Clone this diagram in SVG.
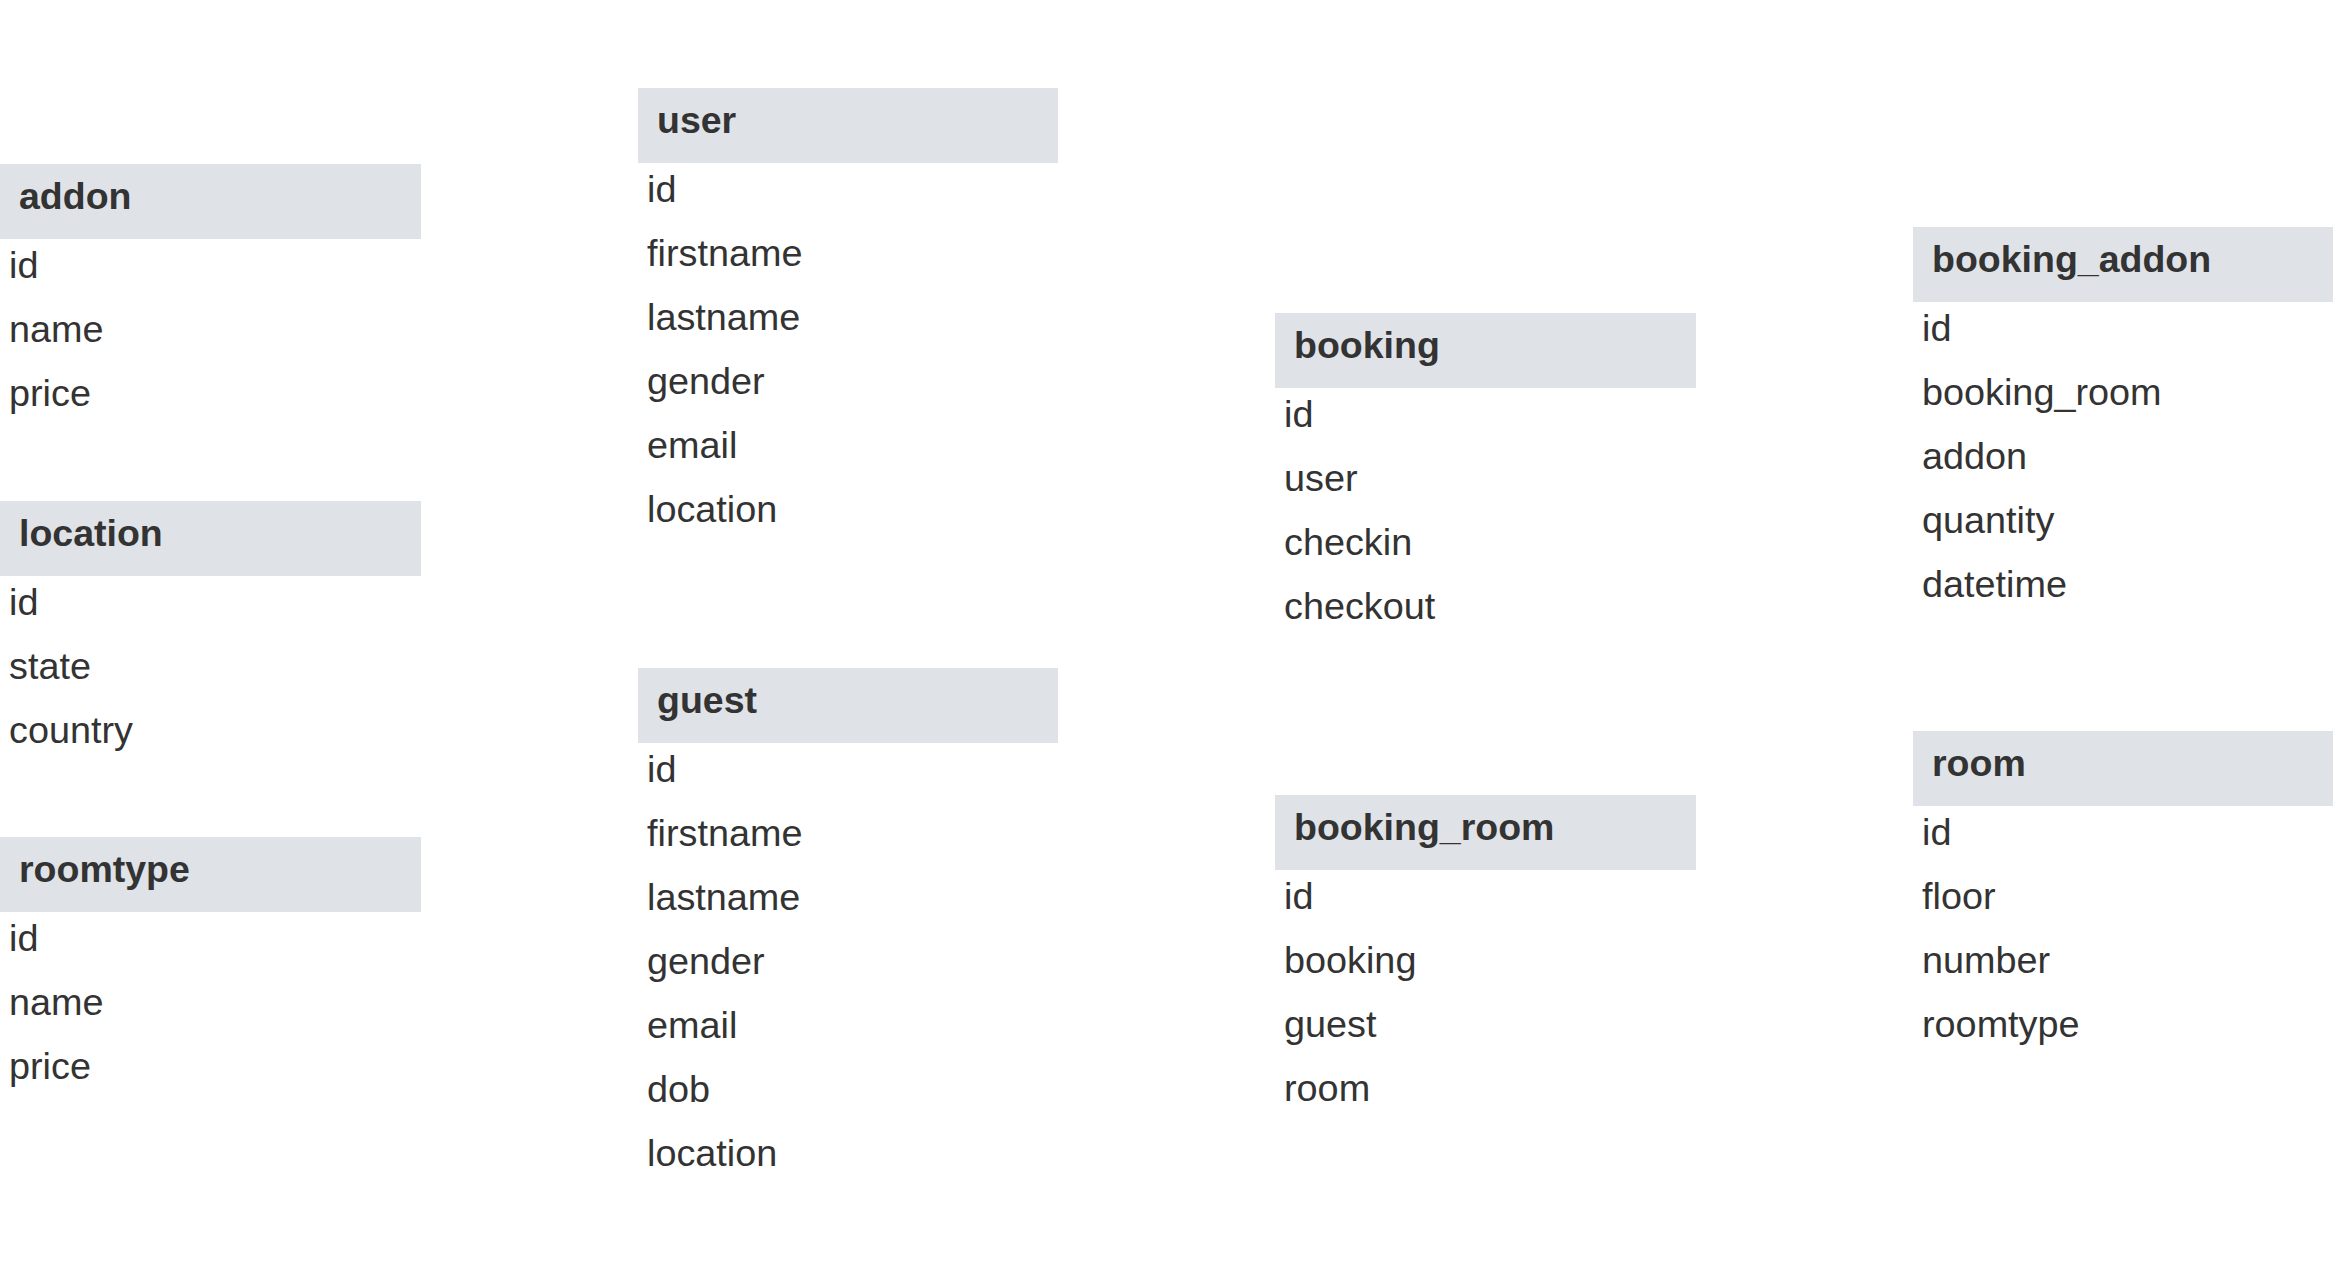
<svg xmlns="http://www.w3.org/2000/svg" width="2333" height="1275" viewBox="0 0 2333 1275">
<style>
.hd{fill:#dfe2e6}
.ht{font-family:"Liberation Sans",Arial,sans-serif;font-weight:bold;font-size:37.5px;fill:#333333}
.ft{font-family:"Liberation Sans",Arial,sans-serif;font-size:37.8px;fill:#333333}
</style>
<rect width="2333" height="1275" fill="#ffffff"/>
<g id="connectors"></g>
<g id="addon" transform="translate(0,164)">
<rect class="hd" width="421" height="75"/>
<text class="ht" x="19" y="45">addon</text>
<text class="ft" x="9" y="114">id</text>
<text class="ft" x="9" y="178">name</text>
<text class="ft" x="9" y="242">price</text>
</g>
<g id="location" transform="translate(0,501)">
<rect class="hd" width="421" height="75"/>
<text class="ht" x="19" y="45">location</text>
<text class="ft" x="9" y="114">id</text>
<text class="ft" x="9" y="178">state</text>
<text class="ft" x="9" y="242">country</text>
</g>
<g id="roomtype" transform="translate(0,837)">
<rect class="hd" width="421" height="75"/>
<text class="ht" x="19" y="45">roomtype</text>
<text class="ft" x="9" y="114">id</text>
<text class="ft" x="9" y="178">name</text>
<text class="ft" x="9" y="242">price</text>
</g>
<g id="user" transform="translate(638,88)">
<rect class="hd" width="420" height="75"/>
<text class="ht" x="19" y="45">user</text>
<text class="ft" x="9" y="114">id</text>
<text class="ft" x="9" y="178">firstname</text>
<text class="ft" x="9" y="242">lastname</text>
<text class="ft" x="9" y="306">gender</text>
<text class="ft" x="9" y="370">email</text>
<text class="ft" x="9" y="434">location</text>
</g>
<g id="guest" transform="translate(638,668)">
<rect class="hd" width="420" height="75"/>
<text class="ht" x="19" y="45">guest</text>
<text class="ft" x="9" y="114">id</text>
<text class="ft" x="9" y="178">firstname</text>
<text class="ft" x="9" y="242">lastname</text>
<text class="ft" x="9" y="306">gender</text>
<text class="ft" x="9" y="370">email</text>
<text class="ft" x="9" y="434">dob</text>
<text class="ft" x="9" y="498">location</text>
</g>
<g id="booking" transform="translate(1275,313)">
<rect class="hd" width="421" height="75"/>
<text class="ht" x="19" y="45">booking</text>
<text class="ft" x="9" y="114">id</text>
<text class="ft" x="9" y="178">user</text>
<text class="ft" x="9" y="242">checkin</text>
<text class="ft" x="9" y="306">checkout</text>
</g>
<g id="booking_room" transform="translate(1275,795)">
<rect class="hd" width="421" height="75"/>
<text class="ht" x="19" y="45">booking_room</text>
<text class="ft" x="9" y="114">id</text>
<text class="ft" x="9" y="178">booking</text>
<text class="ft" x="9" y="242">guest</text>
<text class="ft" x="9" y="306">room</text>
</g>
<g id="booking_addon" transform="translate(1913,227)">
<rect class="hd" width="421" height="75"/>
<text class="ht" x="19" y="45">booking_addon</text>
<text class="ft" x="9" y="114">id</text>
<text class="ft" x="9" y="178">booking_room</text>
<text class="ft" x="9" y="242">addon</text>
<text class="ft" x="9" y="306">quantity</text>
<text class="ft" x="9" y="370">datetime</text>
</g>
<g id="room" transform="translate(1913,731)">
<rect class="hd" width="421" height="75"/>
<text class="ht" x="19" y="45">room</text>
<text class="ft" x="9" y="114">id</text>
<text class="ft" x="9" y="178">floor</text>
<text class="ft" x="9" y="242">number</text>
<text class="ft" x="9" y="306">roomtype</text>
</g>
</svg>
